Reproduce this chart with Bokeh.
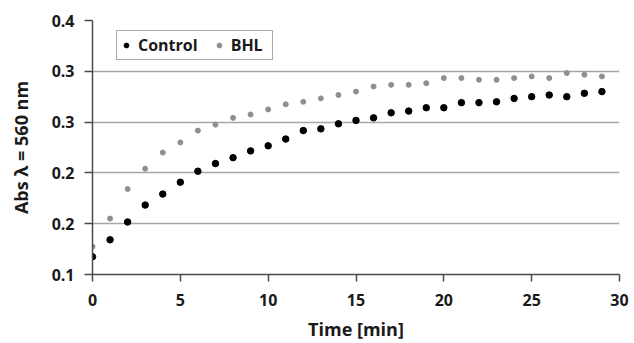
from bokeh.plotting import figure
from bokeh.models import FixedTicker, Legend, LegendItem, Range1d
from bokeh.embed import file_html
from bokeh.resources import INLINE

# ---- data ----
time_min = list(range(30))
control = [0.121, 0.141, 0.162, 0.182, 0.195, 0.209, 0.222, 0.231, 0.238, 0.246,
           0.252, 0.260, 0.270, 0.272, 0.278, 0.282, 0.285, 0.291, 0.293, 0.297,
           0.297, 0.303, 0.303, 0.304, 0.308, 0.310, 0.312, 0.310, 0.314, 0.316]
bhl = [0.133, 0.166, 0.201, 0.225, 0.244, 0.256, 0.270, 0.277, 0.285, 0.289,
       0.295, 0.301, 0.304, 0.308, 0.312, 0.316, 0.322, 0.324, 0.324, 0.326,
       0.332, 0.332, 0.330, 0.330, 0.332, 0.334, 0.332, 0.338, 0.336, 0.334]
y_ticks = [0.10, 0.16, 0.22, 0.28, 0.34, 0.40]
y_tick_labels = ["0.1", "0.2", "0.2", "0.3", "0.3", "0.4"]
x_ticks = [0, 5, 10, 15, 20, 25, 30]
series_names = ["Control", "BHL"]

FONT = "Open Sans"
TXT = "#1a1a1a"

p = figure(width=634, height=343, output_backend="svg", toolbar_location=None,
           x_range=Range1d(0, 30), y_range=Range1d(0.1, 0.4),
           min_border_left=92, min_border_top=20, min_border_right=15, min_border_bottom=69)
p.outline_line_color = None
p.background_fill_color = "white"
p.border_fill_color = "white"

r_ctrl = p.scatter(time_min, control, size=6.5, color="black", marker="circle")
r_bhl = p.scatter(time_min, bhl, size=5, color="#8f8f8f", marker="circle")

# grid
p.xgrid.visible = False
p.ygrid.grid_line_color = "#a6a6a6"
p.ygrid.grid_line_width = 1.5
p.ygrid.ticker = FixedTicker(ticks=y_ticks)

# y axis
p.yaxis.ticker = FixedTicker(ticks=y_ticks)
p.yaxis.major_label_overrides = {t: l for t, l in zip(y_ticks, y_tick_labels)}
p.yaxis.axis_label = "Abs λ = 560 nm"
p.yaxis.minor_tick_line_color = None
p.yaxis.major_tick_in = 0
p.yaxis.major_tick_out = 8
p.yaxis.major_label_standoff = 10
p.yaxis.axis_label_standoff = 16

# x axis
p.xaxis.ticker = FixedTicker(ticks=x_ticks)
p.xaxis.axis_label = "Time [min]"
p.xaxis.minor_tick_line_color = None
p.xaxis.major_tick_in = 0
p.xaxis.major_tick_out = 7
p.xaxis.major_label_standoff = 12
p.xaxis.axis_label_standoff = 8

for ax in (p.xaxis, p.yaxis):
    ax.axis_line_color = "#4a4a4a"
    ax.axis_line_width = 1.5
    ax.major_tick_line_color = "#4a4a4a"
    ax.major_tick_line_width = 1.5
    ax.major_label_text_font = FONT
    ax.major_label_text_font_size = "16px"
    ax.major_label_text_font_style = "bold"
    ax.major_label_text_color = TXT
    ax.axis_label_text_font = FONT
    ax.axis_label_text_font_size = "18px"
    ax.axis_label_text_font_style = "bold"
    ax.axis_label_text_color = TXT

legend = Legend(items=[LegendItem(label=series_names[0], renderers=[r_ctrl]),
                       LegendItem(label=series_names[1], renderers=[r_bhl])],
                location=(24, 214), orientation="horizontal")
legend.label_text_font = FONT
legend.label_text_font_size = "16px"
legend.label_text_font_style = "bold"
legend.label_text_color = TXT
legend.border_line_color = "#555555"
legend.border_line_width = 1
legend.background_fill_color = "white"
legend.background_fill_alpha = 1
legend.padding = 3
legend.spacing = 15
legend.glyph_width = 12
legend.glyph_height = 16
legend.label_height = 16
legend.label_width = 38
legend.label_standoff = 6
legend.margin = 0
p.add_layout(legend, "center")

open("out.html", "w").write(file_html(p, INLINE))
